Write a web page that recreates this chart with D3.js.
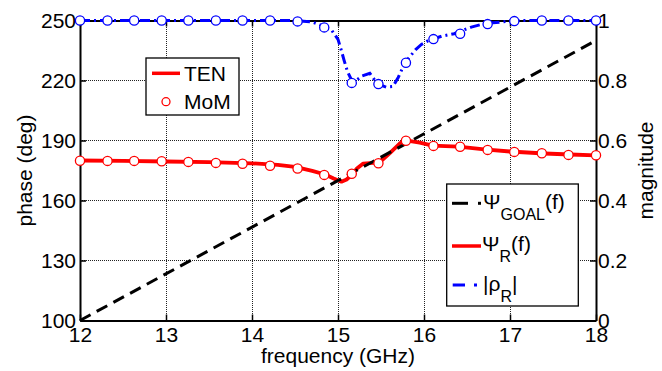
<!DOCTYPE html>
<html><head><meta charset="utf-8">
<script src="https://cdn.jsdelivr.net/npm/d3@7"></script>
<style>
html,body{margin:0;padding:0;background:#fff;}
text{font-family:"Liberation Sans",Arial,sans-serif;fill:#000;}
</style></head>
<body><svg id="c" width="662" height="371"></svg>
<script>
// ---- data ----
const xTicks = [12,13,14,15,16,17,18];
const phaseTicks = [100,130,160,190,220,250];
const magTicks = [0,0.2,0.4,0.6,0.8,1];
const magTickLabels = ["0","0.2","0.4","0.6","0.8","1"];

const momFreq = [12.00,12.32,12.63,12.95,13.26,13.58,13.89,14.21,14.53,14.84,15.16,15.47,15.79,16.11,16.42,16.74,17.05,17.37,17.68,18.00];
const momPhase = [179.9,179.8,179.8,179.6,179.3,178.8,178.4,177.4,176.0,172.8,173.4,178.6,189.9,187.3,186.9,185.3,184.3,183.6,182.8,182.6];
const momMag = [1,1,1,1,1,1,1,1,0.997,0.977,0.792,0.788,0.859,0.938,0.956,0.988,0.998,1,1,1];

const tenPhaseFreq = [12,12.5,13,13.5,14,14.3,14.5,14.7,14.85,14.95,15.04,15.1,15.16,15.22,15.29,15.45,15.52,15.6,15.72,15.79,15.95,16.1,16.4,16.7,17.0,17.4,17.7,18];
const tenPhase = [180,179.8,179.5,179.2,178.6,177.8,176.8,174.8,173,171,169.4,170.5,172.8,176,178.4,178.9,180.5,183.6,188.6,190.1,188.9,187.4,186.9,185.6,184.5,183.5,183,182.6];

const tenMagFreq = [12,14.5,14.7,14.84,14.93,15.0,15.035,15.07,15.11,15.16,15.21,15.28,15.37,15.43,15.49,15.56,15.64,15.70,15.78,15.90,15.97,16.05,16.21,16.35,16.55,16.71,16.90,17.03,18];
const tenMag = [1,1,0.995,0.98,0.966,0.937,0.904,0.868,0.83,0.80,0.80,0.815,0.824,0.80,0.785,0.778,0.78,0.81,0.86,0.902,0.92,0.933,0.948,0.956,0.978,0.99,0.995,1,1];

const goalFreq = [12,18];
const goalPhase = [100,240];

// ---- layout ----
const L=80, R=596, T=20.5, B=320.5;
const svg = d3.select("#c");
const x = d3.scaleLinear().domain([12,18]).range([L,R]);
const yP = d3.scaleLinear().domain([100,250]).range([B,T]);
const yM = d3.scaleLinear().domain([0,1]).range([B,T]);

// grid
const g = svg.append("g").attr("shape-rendering","crispEdges");
g.selectAll(".gx").data(xTicks.slice(1,-1)).enter().append("line")
  .attr("x1",d=>Math.round(x(d))+0.5).attr("x2",d=>Math.round(x(d))+0.5).attr("y1",T).attr("y2",B)
  .attr("stroke","#222").attr("stroke-width",1).attr("stroke-dasharray","1,1");
g.selectAll(".gy").data(phaseTicks.slice(1,-1)).enter().append("line")
  .attr("y1",d=>yP(d)).attr("y2",d=>yP(d)).attr("x1",L).attr("x2",R)
  .attr("stroke","#222").attr("stroke-width",1).attr("stroke-dasharray","1,1");

// axes
const fs = "21px";
const ax = svg.append("g").attr("transform",`translate(0,${B})`)
  .call(d3.axisBottom(x).tickValues(xTicks).tickFormat(d3.format("d")).tickSize(-6).tickSizeOuter(0).tickPadding(7));
const axT = svg.append("g").attr("transform",`translate(0,${T})`)
  .call(d3.axisTop(x).tickValues(xTicks).tickFormat("").tickSize(-6).tickSizeOuter(0));
const ayL = svg.append("g").attr("transform",`translate(${L},0)`)
  .call(d3.axisLeft(yP).tickValues(phaseTicks).tickFormat(d3.format("d")).tickSize(-6).tickSizeOuter(0).tickPadding(4));
const ayR = svg.append("g").attr("transform",`translate(${R},0)`)
  .call(d3.axisRight(yM).tickValues(magTicks).tickFormat((d,i)=>magTickLabels[i]).tickSize(-6).tickSizeOuter(0).tickPadding(2));
[ax,axT,ayL,ayR].forEach(a=>{
  a.selectAll("text").style("font-size",fs).style("font-family","Liberation Sans, Arial, sans-serif");
  a.selectAll(".tick line").attr("stroke","#000").attr("stroke-width",1.5);
  a.select(".domain").attr("stroke","#000").attr("stroke-width",2);
});

// lines
const line = (xs,ys,yS)=>d3.line().x((d,i)=>x(xs[i])).y((d,i)=>yS(ys[i]))(ys);
svg.append("path").attr("d",line(tenPhaseFreq,tenPhase,yP)).attr("fill","none")
  .attr("stroke","#ff0000").attr("stroke-width",3.8).attr("stroke-linejoin","round");
svg.append("path").attr("d",line(goalFreq,goalPhase,yP)).attr("fill","none")
  .attr("stroke","#000").attr("stroke-width",3).attr("stroke-dasharray","12,7");
svg.selectAll(".mp").data(momPhase).enter().append("circle")
  .attr("cx",(d,i)=>x(momFreq[i])).attr("cy",d=>yP(d)).attr("r",4.6)
  .attr("fill","#fff").attr("stroke","#ff0000").attr("stroke-width",1.3);
svg.append("path").attr("d",line(tenMagFreq,tenMag,yM)).attr("fill","none")
  .attr("stroke","#0000ff").attr("stroke-width",3).attr("stroke-dasharray","10,4,2,4");
svg.selectAll(".mm").data(momMag).enter().append("circle")
  .attr("cx",(d,i)=>x(momFreq[i])).attr("cy",d=>yM(d)).attr("r",4.6)
  .attr("fill","#fff").attr("stroke","#0000ff").attr("stroke-width",1.3);

// axis titles
svg.append("text").attr("x",(L+R)/2).attr("y",363).attr("text-anchor","middle").style("font-size",fs).text("frequency (GHz)");
svg.append("text").attr("transform",`translate(32,${(T+B)/2}) rotate(-90)`).attr("text-anchor","middle").style("font-size",fs).text("phase (deg)");
svg.append("text").attr("transform",`translate(653,${(T+B)/2}) rotate(-90)`).attr("text-anchor","middle").style("font-size",fs).text("magnitude");

// legend 1
const l1 = svg.append("g");
l1.append("rect").attr("x",146).attr("y",58).attr("width",93).attr("height",57).attr("fill","#fff").attr("stroke","#000").attr("stroke-width",1.3);
l1.append("line").attr("x1",152).attr("x2",180).attr("y1",73.3).attr("y2",73.3).attr("stroke","#ff0000").attr("stroke-width",3.5);
l1.append("circle").attr("cx",166).attr("cy",101.7).attr("r",4).attr("fill","#fff").attr("stroke","#ff0000").attr("stroke-width",1.3);
l1.append("text").attr("x",184).attr("y",81).style("font-size",fs).text("TEN");
l1.append("text").attr("x",184).attr("y",109.3).style("font-size",fs).text("MoM");

// legend 2
const l2 = svg.append("g");
l2.append("rect").attr("x",446.7).attr("y",184).attr("width",131.6).attr("height",122).attr("fill","#fff").attr("stroke","#000").attr("stroke-width",1.3);
l2.append("line").attr("x1",452).attr("x2",468).attr("y1",203.3).attr("y2",203.3).attr("stroke","#000").attr("stroke-width",3);
l2.append("line").attr("x1",478).attr("x2",481).attr("y1",203.3).attr("y2",203.3).attr("stroke","#000").attr("stroke-width",3);
l2.append("line").attr("x1",452).attr("x2",481).attr("y1",246).attr("y2",246).attr("stroke","#ff0000").attr("stroke-width",3.5);
l2.append("line").attr("x1",452.7).attr("x2",465).attr("y1",285).attr("y2",285).attr("stroke","#0000ff").attr("stroke-width",3);
l2.append("line").attr("x1",474).attr("x2",477).attr("y1",285).attr("y2",285).attr("stroke","#0000ff").attr("stroke-width",3);
const t1 = l2.append("text").attr("x",483).attr("y",209).style("font-size",fs);
t1.append("tspan").text("Ψ");
t1.append("tspan").attr("dy",11).style("font-size","16px").text("GOAL");
t1.append("tspan").attr("dy",-11).text("(f)");
const t2 = l2.append("text").attr("x",482).attr("y",251).style("font-size",fs);
t2.append("tspan").text("Ψ");
t2.append("tspan").attr("dy",11).style("font-size","16px").text("R");
t2.append("tspan").attr("dy",-11).text("(f)");
const t3 = l2.append("text").attr("x",483).attr("y",291).style("font-size",fs);
t3.append("tspan").text("|ρ");
t3.append("tspan").attr("dy",11).style("font-size","16px").text("R");
t3.append("tspan").attr("dy",-11).text("|");
</script></body></html>
